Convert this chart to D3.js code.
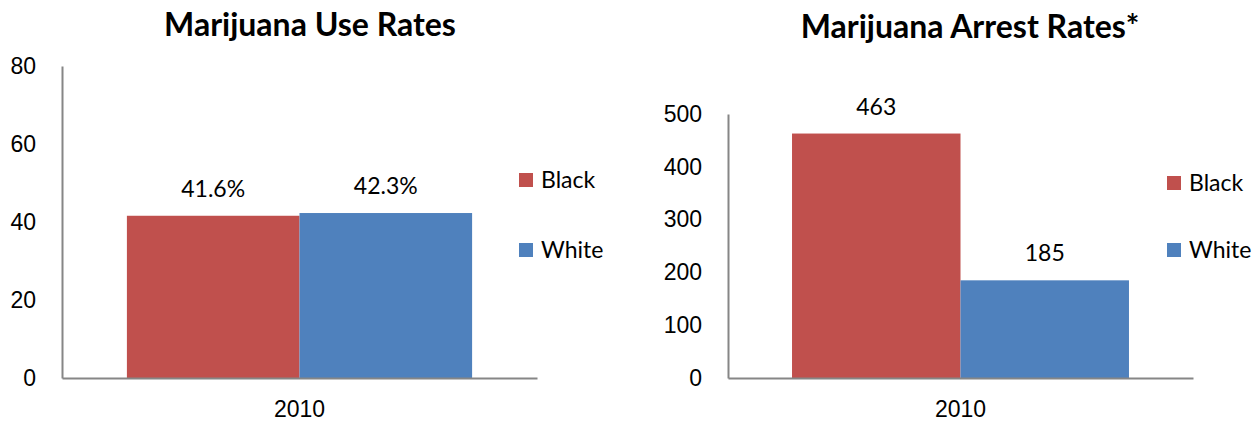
<!DOCTYPE html>
<html>
<head>
<meta charset="utf-8">
<script src="https://cdn.jsdelivr.net/npm/d3@7"></script>
<style>
  body { margin: 0; background: #fff; }
  svg { font-family: Lato, "Open Sans", sans-serif; }
</style>
</head>
<body>
<svg id="chart" width="1259" height="423"></svg>
<script>
const category = ["2010"];
const seriesNames = ["Black", "White"];
const colors = ["#C0504D", "#4F81BD"];

const useRates = [41.6, 42.3];
const useTicks = [0, 20, 40, 60, 80];
const arrestRates = [463, 185];
const arrestTicks = [0, 100, 200, 300, 400, 500];

const svg = d3.select("#chart");

function drawPanel(opts) {
    const g = svg.append("g");

    const x = d3.scaleBand()
        .domain(category)
        .range([opts.left, opts.right])
        .paddingInner(0)
        .paddingOuter(opts.pad);

    const xs = d3.scaleBand()
        .domain(seriesNames)
        .range([0, x.bandwidth()]);

    const y = d3.scaleLinear()
        .domain([0, opts.max])
        .range([opts.bottom, opts.top]);

    // title
    g.append("text")
        .attr("x", opts.titleX)
        .attr("y", opts.titleY)
        .attr("text-anchor", "middle")
        .style("font-size", "32px")
        .style("font-weight", "bold")
        .text(opts.title);

    // bars
    g.selectAll(".bar")
        .data(opts.values)
        .enter().append("rect")
        .attr("class", "bar")
        .attr("x", (d, i) => x(category[0]) + xs(seriesNames[i]))
        .attr("y", d => y(d))
        .attr("width", xs.bandwidth())
        .attr("height", d => y(0) - y(d))
        .attr("fill", (d, i) => colors[i]);

    // value labels
    g.selectAll(".val")
        .data(opts.values)
        .enter().append("text")
        .attr("class", "val")
        .attr("x", (d, i) => x(category[0]) + xs(seriesNames[i]) + xs.bandwidth() / 2)
        .attr("y", d => y(d) - 19)
        .attr("text-anchor", "middle")
        .style("font-size", "23px")
        .text(opts.fmt);

    // y axis
    const yAxis = g.append("g")
        .attr("transform", `translate(${opts.left},0)`)
        .call(d3.axisLeft(y).tickValues(opts.ticks).tickSize(0).tickPadding(26));
    yAxis.select(".domain").attr("stroke", "#868686").attr("stroke-width", 2);
    yAxis.selectAll("text").style("font-size", "23px").attr("fill", "#000");

    // x axis
    const xAxis = g.append("g")
        .attr("transform", `translate(0,${opts.bottom})`)
        .call(d3.axisBottom(x).tickSize(0).tickPadding(23));
    xAxis.select(".domain").attr("stroke", "#868686").attr("stroke-width", 2);
    xAxis.selectAll("text").style("font-size", "23px").attr("fill", "#000");

    // legend
    const lg = g.selectAll(".legend")
        .data(seriesNames)
        .enter().append("g")
        .attr("class", "legend")
        .attr("transform", (d, i) => `translate(${opts.legendX},${opts.legendY + i * opts.legendGap})`);
    lg.append("rect")
        .attr("x", 0).attr("y", -7)
        .attr("width", 14).attr("height", 14)
        .attr("fill", (d, i) => colors[i]);
    lg.append("text")
        .attr("x", 22).attr("y", 0)
        .attr("dy", "0.35em")
        .style("font-size", "23px")
        .text(d => d);
}

drawPanel({
    title: "Marijuana Use Rates", titleX: 310, titleY: 36,
    left: 62, right: 537, top: 66, bottom: 378, pad: 0.188,
    max: 80, ticks: useTicks, values: useRates,
    fmt: d => d.toFixed(1) + "%",
    legendX: 519, legendY: 180, legendGap: 70
});

drawPanel({
    title: "Marijuana Arrest Rates*", titleX: 970, titleY: 38,
    left: 728, right: 1193, top: 114, bottom: 378, pad: 0.19,
    max: 500, ticks: arrestTicks, values: arrestRates,
    fmt: d => d,
    legendX: 1167, legendY: 183, legendGap: 67
});
</script>
</body>
</html>
